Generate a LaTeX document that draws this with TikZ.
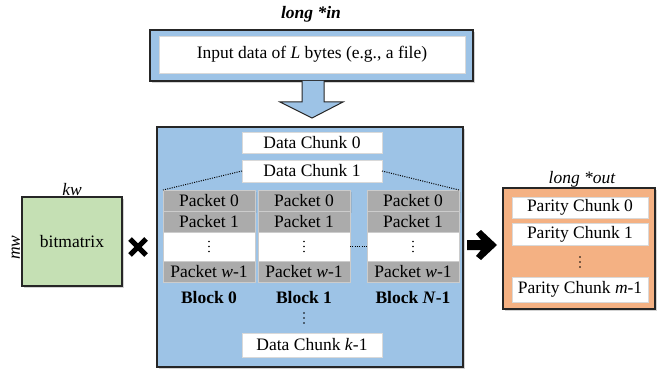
\documentclass[tikz,border=0pt]{standalone}
\usepackage{fontspec}
\setmainfont{Liberation Serif}
\usetikzlibrary{shadows,calc}
\definecolor{fblue}{HTML}{9DC3E6}
\definecolor{fgreen}{HTML}{C5E0B4}
\definecolor{forange}{HTML}{F4B183}
\definecolor{fgray}{HTML}{ABABAB}
\tikzset{
  base/.style={inner sep=0pt, outer sep=0pt, font=\fontsize{17.5}{20}\selectfont},
  frame/.style={base, draw=black!85, line width=1.3pt, drop shadow={opacity=0.35, shadow xshift=2pt, shadow yshift=-2pt}},
  wbox/.style={base, fill=white, draw=black!15, line width=0.6pt},
  pkt/.style={base, fill=fgray, draw=black!20, line width=0.8pt, minimum width=92pt, minimum height=21pt},
  pdots/.style={base, fill=white, draw=black!20, line width=0.8pt, minimum width=92pt, minimum height=29pt},
  lbl/.style={base},
  blbl/.style={base, font=\fontsize{17.5}{20}\selectfont\bfseries},
  vdotz/.pic={\fill (0,-5) circle (0.9pt) (0,0) circle (0.9pt) (0,5) circle (0.9pt);},
  dotline/.style={line width=1pt, dash pattern=on 1pt off 1.3pt},
}
\begin{document}
\begin{tikzpicture}[x=1pt,y=-1pt]
\useasboundingbox (0,0) rectangle (657,369);
% input
\node[lbl, font=\fontsize{17.5}{20}\selectfont\bfseries\itshape] (intitle) at (311,14) {long *in};
\node[frame, fill=fblue, minimum width=323pt, minimum height=51pt] (inframe) at (311.5,55.5) {};
\node[wbox, minimum width=306pt, minimum height=37pt] (intext) at (312,54.5) {Input data of \textit{L} bytes (e.g., a file)};
% down arrow
\draw[fill=fblue, line width=1pt, line join=miter, draw=black!85]
  ($(inframe.south)+(-9.5,0)$) -- ($(inframe.south)+(-9.5,21)$) -- ($(inframe.south)+(-31.5,21)$)
  -- ($(inframe.south)+(0.5,37)$) -- ($(inframe.south)+(31.5,21)$) -- ($(inframe.south)+(12.5,21)$)
  -- ($(inframe.south)+(12.5,0)$);
% main box
\node[frame, fill=fblue, minimum width=306pt, minimum height=240pt] (main) at (310,247) {};
\node[wbox, minimum width=140pt, minimum height=21pt] (dc0) at (312,142.5) {Data Chunk 0};
\node[wbox, minimum width=140pt, minimum height=22pt] (dc1) at (312,171) {Data Chunk 1};
% blocks
\foreach \n/\x in {a/209, b/304, c/413}{
  \node[pkt, drop shadow={opacity=0.25, shadow xshift=1.5pt, shadow yshift=-1.5pt}] (\n0) at (\x,200.5) {Packet 0};
  \node[pkt] (\n1) at (\x,221.5) {Packet 1};
  \node[pdots] (\n d) at (\x,246.5) {};
  \pic at (\n d.center) {vdotz};
  \node[pkt] (\n w) at (\x,271.5) {Packet \textit{w}-1};
}
\node[blbl] (bl0) at (209,298) {Block 0};
\node[blbl] (bl1) at (304,298) {Block 1};
\node[blbl] (bl2) at (413,298) {Block \textit{N}-1};
\draw[dotline] (dc1.west) -- (a0.north west);
\draw[dotline] (dc1.east) -- (c0.north east);
\draw[dotline] (bd.east) -- (cd.west);
\coordinate (vd) at (304,318);
\pic at (vd) {vdotz};
\node[wbox, minimum width=140pt, minimum height=24pt] (dck) at (312,345) {Data Chunk \textit{k}-1};
% bitmatrix
\node[frame, fill=fgreen, minimum width=100pt, minimum height=89pt] (bm) at (72,241.5) {bitmatrix};
\node[lbl, font=\fontsize{17.5}{20}\selectfont\itshape, anchor=south] (kw) at ($(bm.north)+(0,-1)$) {kw};
\node[lbl, font=\fontsize{17.5}{20}\selectfont\itshape, rotate=90, anchor=south] (mw) at ($(bm.west)+(-2,6)$) {mw};
% cross
\coordinate (cx) at (138,247);
\draw[line width=5pt] ($(cx)+(-8,-8)$) -- ($(cx)+(8,8)$);
\draw[line width=5pt] ($(cx)+(-8,8)$) -- ($(cx)+(8,-8)$);
% right arrow
\coordinate (ra) at (467,245);
\fill[line join=round] ($(ra)+(0,-5)$) -- ($(ra)+(14,-5)$) -- ($(ra)+(9,-11)$) -- ($(ra)+(14,-15)$) -- ($(ra)+(30,0)$)
  -- ($(ra)+(14,15)$) -- ($(ra)+(9,11)$) -- ($(ra)+(14,5)$) -- ($(ra)+(0,5)$) -- cycle;
% output
\node[frame, fill=forange, minimum width=152pt, minimum height=121pt] (out) at (579,248.5) {};
\node[lbl, font=\fontsize{17.5}{20}\selectfont\itshape, anchor=south] (outtitle) at ($(out.north)+(3,-1)$) {long *out};
\node[wbox, minimum width=136pt, minimum height=21pt] (pc0) at (580,207.5) {Parity Chunk 0};
\node[wbox, minimum width=136pt, minimum height=22pt] (pc1) at (580,234) {Parity Chunk 1};
\coordinate (pcd) at (580,262);
\pic at (pcd) {vdotz};
\node[wbox, minimum width=136pt, minimum height=25pt] (pcm) at (580,289.5) {Parity Chunk \textit{m}-1};
\end{tikzpicture}
\end{document}
